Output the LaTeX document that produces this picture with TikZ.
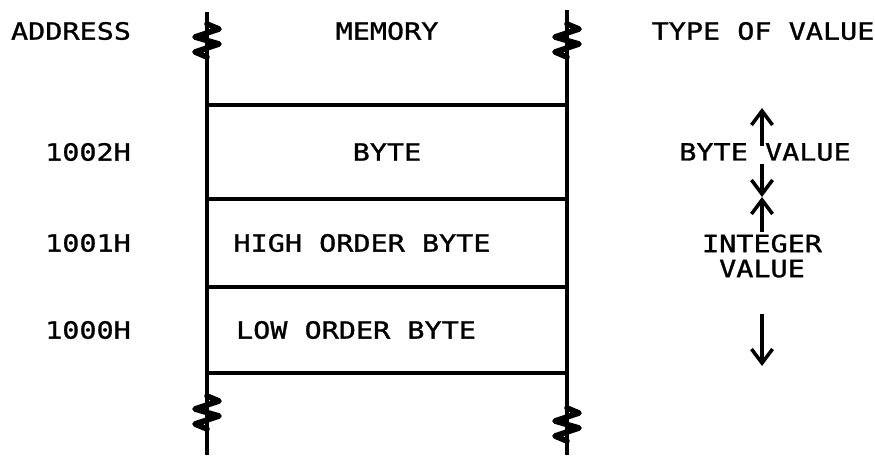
\documentclass[tikz,border=0pt]{standalone}
\usepackage{fontspec}
\setmonofont[FakeStretch=1.2, FakeBold=1.2]{DejaVu Sans Mono}
\usetikzlibrary{arrows.meta,positioning}

\begin{document}
\begin{tikzpicture}[x=0.02cm, y=-0.02cm, every node/.style={font=\ttfamily\fontsize{13.5}{14.2}\selectfont},
  >={Straight Barb[length=8pt,width=12pt,line width=2pt]}]
  \useasboundingbox (0,0) rectangle (875,460);
  \tikzset{memline/.style={line width=2pt}, brk/.style={line width=3.2pt, line cap=round, line join=round}}
  % column heads
  \node (addr) at (71,31) {ADDRESS};
  \node (mem) at (387,31) {MEMORY};
  \node (type) at (763,31) {TYPE OF VALUE};
  % memory cells
  \draw[memline] (207,12) -- (207,455);
  \draw[memline] (567,10) -- (567,455);
  \foreach \y in {105,199,287,373}
    \draw[memline] (207,\y) -- (567,\y);
  % break marks
  \foreach \x/\y in {207/40, 567/40, 207/412, 567/424}
    \draw[brk] (\x,\y-16) -- (\x+12,\y-11) -- (\x-12,\y-3) -- (\x+12,\y+4) -- (\x-12,\y+12) -- (\x,\y+17);
  % addresses and contents
  \node (a2) at (88,152) {1002H};
  \node (a1) at (88,243) {1001H};
  \node (a0) at (88,330) {1000H};
  \node (byte) at (387,152) {BYTE};
  \node (hi) at (362,243) {HIGH ORDER BYTE};
  \node (lo) at (356,330) {LOW ORDER BYTE};
  % type of value
  \node (bval) at (765,152) {BYTE VALUE};
  \node[align=center] (ival) at (762,256) {INTEGER\\VALUE};
  \coordinate (btop) at (762,108);
  \coordinate (mid) at (762,197);
  \coordinate (ibot) at (762,366);
  \draw[->, line width=2pt] ([yshift=-5pt]bval.north -| btop) -- (btop);
  \draw[->, line width=2pt] ([yshift=2pt]bval.south -| mid) -- (mid);
  \draw[->, line width=2pt] ([yshift=-2pt]ival.north -| mid) -- (mid);
  \draw[->, line width=2pt] (762,314) -- (ibot);
\end{tikzpicture}
\end{document}
